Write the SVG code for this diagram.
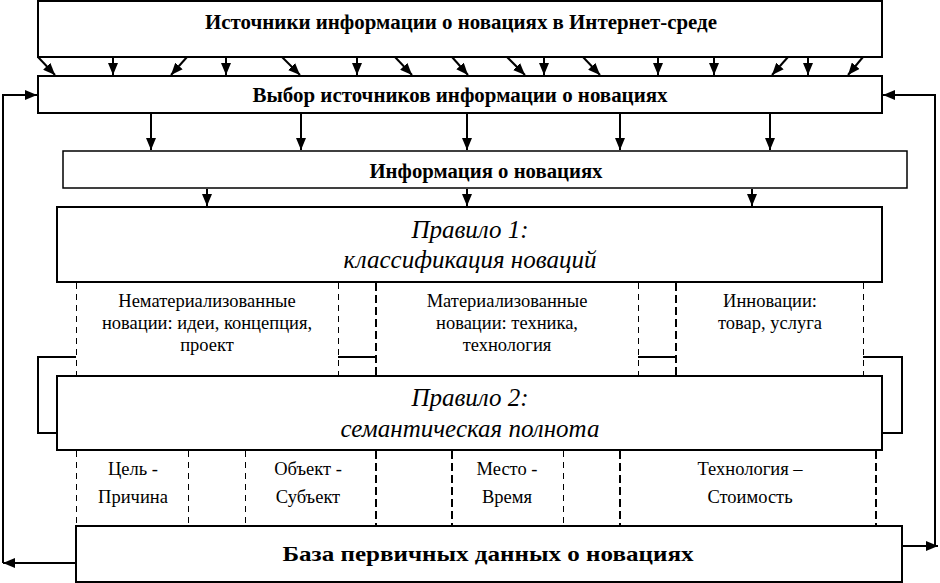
<svg xmlns="http://www.w3.org/2000/svg" width="940" height="583" viewBox="0 0 940 583">
<style>
.box{fill:#fff;stroke:#000;stroke-width:2}
.t{font-family:"Liberation Serif","Times New Roman",serif;fill:#000;text-anchor:middle}
.b{font-weight:bold;font-size:20px}
.i{font-style:italic;font-size:25px}
.c{font-size:18.5px}
.ln{fill:none;stroke:#000;stroke-width:2}
.d1{stroke:#000;stroke-width:1;stroke-dasharray:6 5;shape-rendering:crispEdges}
.d2{stroke:#000;stroke-width:2;stroke-dasharray:8 4;shape-rendering:crispEdges}
</style>
<defs>
<marker id="ar" viewBox="0 0 12 10" refX="12" refY="5" markerWidth="12" markerHeight="10" markerUnits="userSpaceOnUse" orient="auto">
<path d="M0,0 L12,5 L0,10 z" fill="#000"/>
</marker>
</defs>
<rect width="940" height="583" fill="#fff"/>

<g id="n-sources"><rect class="box" x="38" y="1" width="844" height="56"/><text class="t b" x="461" y="29" textLength="512" lengthAdjust="spacingAndGlyphs">Источники информации о новациях в Интернет-среде</text></g>
<g id="n-select"><rect class="box" x="38" y="76" width="844" height="37"/><text class="t b" x="460" y="102" textLength="415" lengthAdjust="spacingAndGlyphs">Выбор источников информации о новациях</text></g>
<g id="n-info"><rect class="box" x="63" y="151" width="844" height="37" style="stroke-width:1.5"/><text class="t b" x="486" y="178" textLength="233" lengthAdjust="spacingAndGlyphs">Информация о новациях</text></g>
<g id="n-rule1"><rect class="box" x="57" y="207" width="825" height="75"/><text class="t i" x="470" y="238">Правило 1:</text><text class="t i" x="470" y="268">классификация новаций</text></g>

<g id="n-cells1">
<line class="d1" x1="76.5" y1="283" x2="76.5" y2="375"/>
<line class="d1" x1="338.5" y1="283" x2="338.5" y2="375"/>
<line class="d2" x1="376" y1="283" x2="376" y2="375"/>
<line class="d1" x1="638.5" y1="283" x2="638.5" y2="375"/>
<line class="d2" x1="676" y1="283" x2="676" y2="375"/>
<line class="d1" x1="863.5" y1="283" x2="863.5" y2="375"/>
<text class="t c" x="207" y="307">Нематериализованные</text>
<text class="t c" x="207" y="329">новации: идеи, концепция,</text>
<text class="t c" x="207" y="351">проект</text>
<text class="t c" x="507" y="307">Материализованные</text>
<text class="t c" x="507" y="329">новации: техника,</text>
<text class="t c" x="507" y="351">технология</text>
<text class="t c" x="770" y="307">Инновации:</text>
<text class="t c" x="770" y="329">товар, услуга</text>
</g>

<g id="n-rule2"><rect class="box" x="57" y="376" width="825" height="74"/><text class="t i" x="470" y="406">Правило 2:</text><text class="t i" x="470" y="437">семантическая полнота</text></g>

<g id="n-cells2">
<line class="d1" x1="76.5" y1="451" x2="76.5" y2="525"/>
<line class="d1" x1="188.5" y1="451" x2="188.5" y2="525"/>
<line class="d1" x1="245.5" y1="451" x2="245.5" y2="525"/>
<line class="d2" x1="376" y1="451" x2="376" y2="525"/>
<line class="d2" x1="452" y1="451" x2="452" y2="525"/>
<line class="d1" x1="563.5" y1="451" x2="563.5" y2="525"/>
<line class="d2" x1="620" y1="451" x2="620" y2="525"/>
<line class="d2" x1="876" y1="451" x2="876" y2="525"/>
<text class="t c" x="133" y="475">Цель -</text>
<text class="t c" x="133" y="503">Причина</text>
<text class="t c" x="308" y="475">Объект -</text>
<text class="t c" x="308" y="503">Субъект</text>
<text class="t c" x="507" y="475">Место -</text>
<text class="t c" x="507" y="503">Время</text>
<text class="t c" x="750" y="475">Технология –</text>
<text class="t c" x="750" y="503">Стоимость</text>
</g>

<g id="n-base"><rect class="box" x="76" y="526" width="826" height="56"/><text class="t b" x="488" y="561" style="font-size:22px" textLength="411" lengthAdjust="spacingAndGlyphs">База первичных данных о новациях</text></g>

<g id="connectors" class="ln" marker-end="url(#ar)">
<line x1="38" y1="57" x2="55" y2="75"/>
<line x1="113" y1="57" x2="113" y2="75"/>
<line x1="187" y1="57" x2="171" y2="75"/>
<line x1="226" y1="57" x2="226" y2="75"/>
<line x1="282" y1="57" x2="300" y2="75"/>
<line x1="357" y1="57" x2="357" y2="75"/>
<line x1="395" y1="57" x2="412" y2="75"/>
<line x1="452" y1="57" x2="468" y2="75"/>
<line x1="507" y1="57" x2="525" y2="75"/>
<line x1="544" y1="57" x2="544" y2="75"/>
<line x1="583" y1="57" x2="600" y2="75"/>
<line x1="658" y1="57" x2="658" y2="75"/>
<line x1="714" y1="57" x2="714" y2="75"/>
<line x1="788" y1="57" x2="772" y2="75"/>
<line x1="808" y1="57" x2="808" y2="75"/>
<line x1="863" y1="57" x2="848" y2="75"/>
<line x1="151" y1="114" x2="151" y2="150"/>
<line x1="301" y1="114" x2="301" y2="150"/>
<line x1="467" y1="114" x2="467" y2="150"/>
<line x1="620" y1="114" x2="620" y2="150"/>
<line x1="770" y1="114" x2="770" y2="150"/>
<line x1="207" y1="189" x2="207" y2="206"/>
<line x1="467" y1="189" x2="467" y2="206"/>
<line x1="752" y1="189" x2="752" y2="206"/>
<line x1="75" y1="563" x2="3" y2="563"/>
<polyline points="3,563 3,95 37,95"/>
<polyline points="935,546 935,95 883,95"/>
<line x1="903" y1="546" x2="938" y2="546"/>
<polyline points="76,357 38,357 38,433 56,433" marker-end="none"/>
<polyline points="863,357 902,357 902,433 883,433" marker-end="none"/>
<line x1="338" y1="357" x2="376" y2="357" marker-end="none"/>
<line x1="638" y1="357" x2="676" y2="357" marker-end="none"/>
</g>
</svg>
